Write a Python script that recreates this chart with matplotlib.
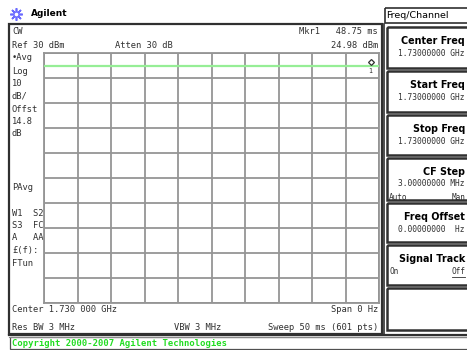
import matplotlib
matplotlib.use("Agg")
import matplotlib.pyplot as plt
from matplotlib.patches import Rectangle

# ---- data ----
trace_ms = [0.0, 50.0]
trace_dbm = [24.98, 24.98]
marker_ms = 48.75
marker_dbm = 24.98
ref_level_dbm = 30
db_per_div = 10
sweep_ms = 50

left_labels = ["\u2022Avg", "Log", "10", "dB/", "Offst", "14.8", "dB"]
left_label_y = [58, 71, 83, 96, 109, 122, 134]
status_labels = ["PAvg", "W1  S2", "S3  FC", "A   AA", "\u00a3(f):", "FTun"]
status_y = [188, 213, 225, 238, 251, 263]

softkeys = ["Center Freq", "Start Freq", "Stop Freq", "CF Step", "Freq Offset", "Signal Track", ""]
softkey_values = ["1.73000000 GHz", "1.73000000 GHz", "1.73000000 GHz", "3.00000000 MHz",
                  "0.00000000  Hz", "", ""]

W, H = 467, 350
fig = plt.figure(figsize=(W / 100, H / 100), dpi=100)
fig.patch.set_facecolor("white")

# overlay axes in pixel coords
ov = fig.add_axes([0, 0, 1, 1])
ov.set_xlim(0, W)
ov.set_ylim(H, 0)
ov.axis("off")

mono = "DejaVu Sans Mono"
fs = 6.3
dark = "#303030"

def txt(x, y, s, ha="left", size=fs, weight="normal", color="#303030", family=mono):
    ov.text(x, y, s, ha=ha, va="center", fontsize=size, fontweight=weight,
            color=color, family=family)

# Agilent logo
ov.plot([16], [14], marker=(8, 2, 0), markersize=9, color="#6a6aff", mew=1.2)
ov.plot([16], [14], marker="o", markersize=3.5, mfc="white", mec="#6a6aff", mew=0.8)
txt(31, 14, "Agilent", size=6.5, weight="bold", color="black", family="DejaVu Sans")

# main box
ov.add_patch(Rectangle((9, 23.5), 372.5, 310, fill=False, ec=dark, lw=1.6))
ov.plot([9, 467], [334.5, 334.5], color=dark, lw=1.6)
ov.plot([9, 467], [336.5, 336.5], color="#888888", lw=0.8)
# copyright bar
ov.add_patch(Rectangle((9.5, 337), 460, 12, fill=False, ec="#505050", lw=0.9))
txt(12, 343, "Copyright 2000-2007 Agilent Technologies", size=6.4, weight="bold",
    color="#22dd22")

# header texts
txt(12, 32, "CW")
txt(12, 45, "Ref 30 dBm")
txt(115, 45, "Atten 30 dB")
txt(378, 32, "Mkr1   48.75 ms", ha="right")
txt(378, 45, "24.98 dBm", ha="right")

for s, y in zip(left_labels, left_label_y):
    txt(12, y, s)
for s, y in zip(status_labels, status_y):
    txt(12, y, s)

txt(12, 310, "Center 1.730 000 GHz")
txt(12, 327, "Res BW 3 MHz")
txt(378, 310, "Span 0 Hz", ha="right")
txt(198, 327, "VBW 3 MHz", ha="center")
txt(378, 327, "Sweep 50 ms (601 pts)", ha="right")

# right panel
ov.add_patch(Rectangle((384.5, 8), 90, 15, fill=False, ec=dark, lw=1.2))
ov.text(386, 15.5, "Freq/Channel", ha="left", va="center", fontsize=6.8,
        color="black", family="DejaVu Sans")
ov.plot([384, 384], [24, 334], color=dark, lw=1.2)
key_tops = [27, 71, 115, 158, 203, 245, 288]
key_h = [41, 41, 40, 42, 39, 40, 42]
for i, (lab, val) in enumerate(zip(softkeys, softkey_values)):
    t = key_tops[i]
    h = key_h[i]
    ov.add_patch(Rectangle((386.5, t), 90, h, fill=False, ec=dark, lw=1.8))
    if lab:
        ov.text(465, t + 14, lab, ha="right", va="center", fontsize=6.9,
                fontweight="bold", color="black", family="DejaVu Sans")
    if val:
        txt(465, t + 26, val, ha="right", size=5.7)
txt(389, 198, "Auto", size=5.6)
txt(465, 198, "Man", ha="right", size=5.6)
txt(389, 272, "On", size=5.6)
txt(465, 272, "Off", ha="right", size=5.6)
ov.plot([389, 402], [202.5, 202.5], color=dark, lw=0.6)
ov.plot([452, 465], [276.5, 276.5], color=dark, lw=0.6)

# graticule axes
x0, x1, ytop, ybot = 44, 379, 53, 303
ax = fig.add_axes([x0 / W, 1 - ybot / H, (x1 - x0) / W, (ybot - ytop) / H])
ax.set_facecolor("none")
ax.set_xlim(0, sweep_ms)
ax.set_ylim(ref_level_dbm - 10 * db_per_div, ref_level_dbm)
ax.set_xticks([sweep_ms * i / 10 for i in range(11)])
ax.set_yticks([ref_level_dbm - db_per_div * i for i in range(11)])
ax.grid(True, color="#959595", lw=1.3)
ax.tick_params(length=0, labelbottom=False, labelleft=False)
for sp in ax.spines.values():
    sp.set_color("#959595")
    sp.set_linewidth(1.3)
ax.plot(trace_ms, trace_dbm, color="#96ee96", lw=1.6, zorder=3)
ax.plot([marker_ms], [marker_dbm + 1.5], marker="D", markersize=3.0, mfc="white",
        mec="#303030", mew=0.9, zorder=4)
ax.text(marker_ms, marker_dbm - 2.3, "1", ha="center", va="center", fontsize=4.8,
        color="#303030", family=mono)

fig.savefig("out.png", dpi=100)
